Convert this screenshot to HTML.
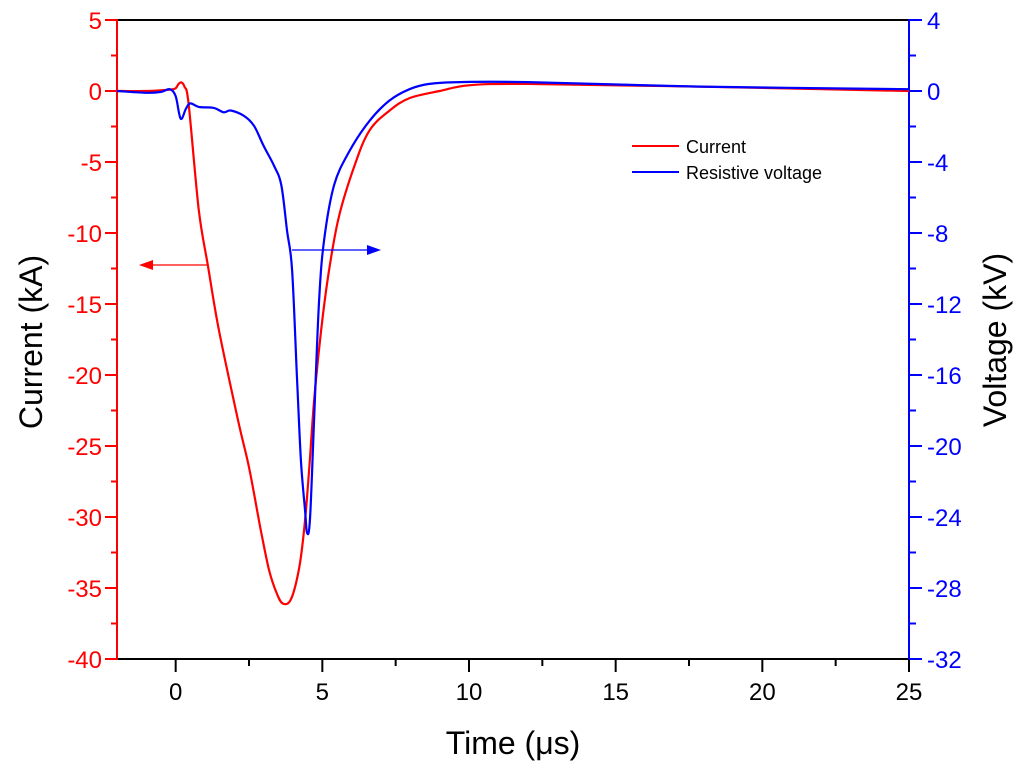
<!DOCTYPE html>
<html><head><meta charset="utf-8"><style>
html,body{margin:0;padding:0;background:#fff;}
svg{display:block;font-family:"Liberation Sans",Arial,sans-serif;}
</style></head><body>
<svg id="chart" width="1024" height="771" viewBox="0 0 1024 771" xmlns="http://www.w3.org/2000/svg">
<g id="axes"></g>
<g id="series"></g>
<g id="annot"></g>
</svg>
<script>
const xTicks=[0,5,10,15,20,25];
const yLeftTicks=[5,0,-5,-10,-15,-20,-25,-30,-35,-40];
const yRightTicks=[4,0,-4,-8,-12,-16,-20,-24,-28,-32];
const currentT=[-2,-1,-0.2,0,0.1,0.2,0.3,0.44,0.79,1.1,1.47,2.15,2.5,2.9,3.18,3.45,3.66,3.93,4.2,4.38,4.55,4.72,4.96,5.23,5.57,6.09,6.6,7.28,7.97,9,10,12,17.9,25];
const currentI=[0,0,0.1,0.2,0.5,0.6,0.3,-0.9,-8.4,-12.3,-16.8,-23.4,-26.5,-30.9,-33.7,-35.4,-36.1,-35.8,-33.7,-30.9,-26.7,-21.8,-16.8,-12.6,-8.8,-5.3,-2.8,-1.4,-0.5,0,0.4,0.5,0.3,0];
const voltT=[-2,-1,-0.5,-0.2,0,0.17,0.35,0.5,0.8,1.3,1.64,1.88,2.33,2.67,3.0,3.35,3.6,3.8,3.97,4.14,4.27,4.41,4.48,4.58,4.72,4.89,5.06,5.4,5.92,6.6,7.28,7.97,8.65,9.68,12,17.9,25];
const voltV=[0,-0.1,-0.05,0.1,-0.3,-1.56,-1.0,-0.7,-0.9,-0.95,-1.2,-1.1,-1.4,-1.96,-3.1,-4.2,-5.3,-7.9,-10.1,-16.3,-20.8,-23.6,-24.9,-24.1,-18.5,-11.8,-8.4,-5.3,-3.4,-1.7,-0.55,0.1,0.4,0.5,0.5,0.25,0.1];

const L=117,R=909,T=20,B=659;
const X=t=>L+(t+2)/27*(R-L);
const YL=v=>T+(5-v)/45*(B-T);
const YR=v=>T+(4-v)/36*(B-T);
const NS="http://www.w3.org/2000/svg";
function mk(tag,attrs,parent,text){const e=document.createElementNS(NS,tag);for(const k in attrs)e.setAttribute(k,attrs[k]);if(text!==undefined)e.textContent=text;parent.appendChild(e);return e;}
const axes=document.getElementById('axes'),series=document.getElementById('series'),annot=document.getElementById('annot');

let e=mk('line',{x1:L,y1:T,x2:R,y2:T,stroke:'#000','stroke-width':2},axes);

e=mk('line',{x1:L,y1:B,x2:R,y2:B,stroke:'#000','stroke-width':2},axes);

e=mk('line',{x1:L,y1:T-1,x2:L,y2:B+1,stroke:'#f00','stroke-width':2},axes);

e=mk('line',{x1:R,y1:T-1,x2:R,y2:B+1,stroke:'#00f','stroke-width':2},axes);


xTicks.forEach(t=>{
  e=mk('line',{x1:X(t),y1:B,x2:X(t),y2:B+13,stroke:'#000','stroke-width':2},axes);
  
  e=mk('text',{x:X(t),y:B+41,'font-size':24,'text-anchor':'middle',fill:'#000'},axes,String(t));
  
});
for(let t=2.5;t<25;t+=5){
  e=mk('line',{x1:X(t),y1:B,x2:X(t),y2:B+7,stroke:'#000','stroke-width':2},axes);
  }
yLeftTicks.forEach(v=>{
  e=mk('line',{x1:L-12,y1:YL(v),x2:L,y2:YL(v),stroke:'#f00','stroke-width':2},axes);
  
  e=mk('text',{x:L-15,y:YL(v)+9,'font-size':24,'text-anchor':'end',fill:'#f00'},axes,String(v));
  
  if(v>-40){e=mk('line',{x1:L-6,y1:YL(v-2.5),x2:L,y2:YL(v-2.5),stroke:'#f00','stroke-width':2},axes);
  }
});
yRightTicks.forEach(v=>{
  e=mk('line',{x1:R,y1:YR(v),x2:R+13,y2:YR(v),stroke:'#00f','stroke-width':2},axes);
  
  e=mk('text',{x:R+18,y:YR(v)+9,'font-size':24,'text-anchor':'start',fill:'#00f'},axes,String(v));
  
  if(v>-32){e=mk('line',{x1:R,y1:YR(v-2),x2:R+7,y2:YR(v-2),stroke:'#00f','stroke-width':2},axes);
  }
});
e=mk('text',{x:513,y:754,'font-size':32,'text-anchor':'middle',fill:'#000'},axes,'Time (μs)');

e=mk('text',{x:42,y:342,'font-size':32,'text-anchor':'middle',fill:'#000',transform:'rotate(-90 42 342)'},axes,'Current (kA)');

e=mk('text',{x:1006,y:340,'font-size':32,'text-anchor':'middle',fill:'#000',transform:'rotate(-90 1006 340)'},axes,'Voltage (kV)');


function smooth(pts){let d='M'+pts[0][0].toFixed(1)+','+pts[0][1].toFixed(1);
  for(let i=0;i<pts.length-1;i++){const p0=pts[Math.max(0,i-1)],p1=pts[i],p2=pts[i+1],p3=pts[Math.min(pts.length-1,i+2)];
    const c1x=p1[0]+(p2[0]-p0[0])/6,c1y=p1[1]+(p2[1]-p0[1])/6,c2x=p2[0]-(p3[0]-p1[0])/6,c2y=p2[1]-(p3[1]-p1[1])/6;
    d+=`C${c1x.toFixed(1)},${c1y.toFixed(1)} ${c2x.toFixed(1)},${c2y.toFixed(1)} ${p2[0].toFixed(1)},${p2[1].toFixed(1)}`;}
  return d;}
e=mk('path',{d:smooth(currentT.map((t,i)=>[X(t),YL(currentI[i])])),fill:'none',stroke:'#f00','stroke-width':2.2},series);

e=mk('path',{d:smooth(voltT.map((t,i)=>[X(t),YR(voltV[i])])),fill:'none',stroke:'#00f','stroke-width':2.2},series);


e=mk('line',{x1:208,y1:265,x2:150,y2:265,stroke:'#f00','stroke-width':1.2},annot);

e=mk('polygon',{points:'139,265 153,260 153,270',fill:'#f00'},annot);

e=mk('line',{x1:292,y1:250,x2:370,y2:250,stroke:'#00f','stroke-width':1.2},annot);

e=mk('polygon',{points:'381,250 367,245 367,255',fill:'#00f'},annot);


e=mk('line',{x1:632,y1:146,x2:679,y2:146,stroke:'#f00','stroke-width':2},annot);

e=mk('text',{x:686,y:153,'font-size':18,fill:'#000'},annot,'Current');

e=mk('line',{x1:632,y1:172,x2:679,y2:172,stroke:'#00f','stroke-width':2},annot);

e=mk('text',{x:686,y:179,'font-size':18,fill:'#000'},annot,'Resistive voltage');

</script>
</body></html>
